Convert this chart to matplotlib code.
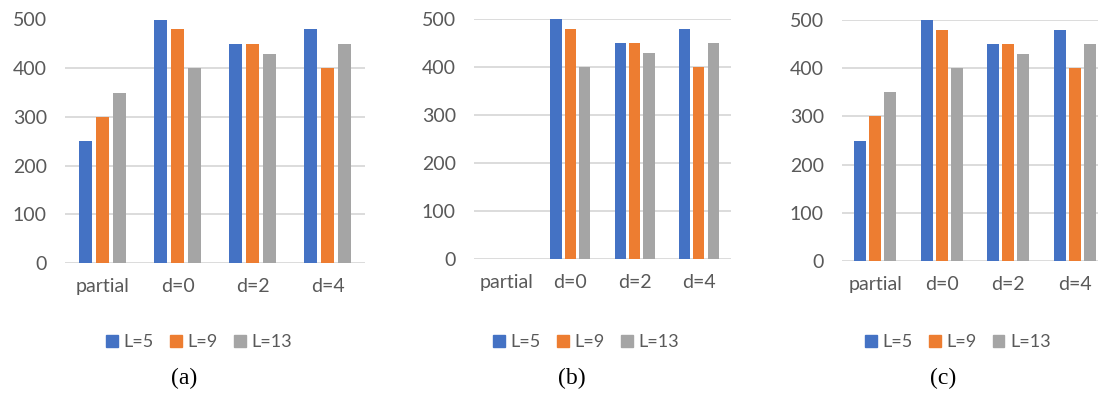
import numpy as np
import matplotlib.pyplot as plt
from matplotlib.patches import Patch

categories = ["partial", "d=0", "d=2", "d=4"]
series = ["L=5", "L=9", "L=13"]

# values per panel, one row per series
panel_a = [[250, 500, 450, 480],
           [300, 480, 450, 400],
           [350, 400, 430, 450]]
panel_b = [[0, 500, 450, 480],
           [0, 480, 450, 400],
           [0, 400, 430, 450]]
panel_c = [[250, 500, 450, 480],
           [300, 480, 450, 400],
           [350, 400, 430, 450]]
captions = ["(a)", "(b)", "(c)"]

COLORS = ["#4472C4", "#ED7D31", "#A5A5A5"]
TEXT = "#595959"
GRID = "#D9D9D9"

W, H = 1098, 393

plt.rcParams["font.family"] = ["Lato", "DejaVu Sans"]

fig = plt.figure(figsize=(W / 100, H / 100), dpi=100)

# axes boxes in pixels: left, right, top, bottom
boxes = [(65, 365, 19.5, 263), (474, 731, 19.5, 259), (842, 1108, 20, 261)]
legend_x = [199, 586, 958]
caption_x = [184, 572, 943]

for data, box, lx, cx, cap in zip((panel_a, panel_b, panel_c), boxes,
                                  legend_x, caption_x, captions):
    l, r, t, b = box
    ax = fig.add_axes([l / W, 1 - b / H, (r - l) / W, (b - t) / H])
    x = np.arange(len(categories))
    for i, vals in enumerate(data):
        ax.bar(x + (i - 1) * 0.225, vals, width=0.175, color=COLORS[i], zorder=3)
    ax.set_xlim(-0.5, 3.5)
    ax.set_ylim(0, 500)
    ax.set_yticks(range(0, 501, 100))
    ax.set_xticks(x)
    ax.set_xticklabels(categories)
    ax.grid(axis="y", color=GRID, linewidth=1.3, zorder=0)
    ax.set_axisbelow(True)
    for s in ax.spines.values():
        s.set_visible(False)
    ax.tick_params(length=0, labelsize=14, labelcolor=TEXT)
    ax.tick_params(axis="y", pad=13)
    ax.tick_params(axis="x", pad=11)

    handles = [Patch(color=c, label=s) for c, s in zip(COLORS, series)]
    fig.legend(handles=handles, loc="center", bbox_to_anchor=(lx / W, 1 - 342 / H),
               ncol=3, frameon=False, fontsize=13, labelcolor=TEXT,
               handlelength=0.65, handleheight=0.65, handletextpad=0.3,
               columnspacing=0.9)
    fig.text(cx / W, 1 - 378 / H, cap, ha="center", va="center",
             family="Liberation Serif", fontsize=17)

fig.savefig("out.png", dpi=100)
